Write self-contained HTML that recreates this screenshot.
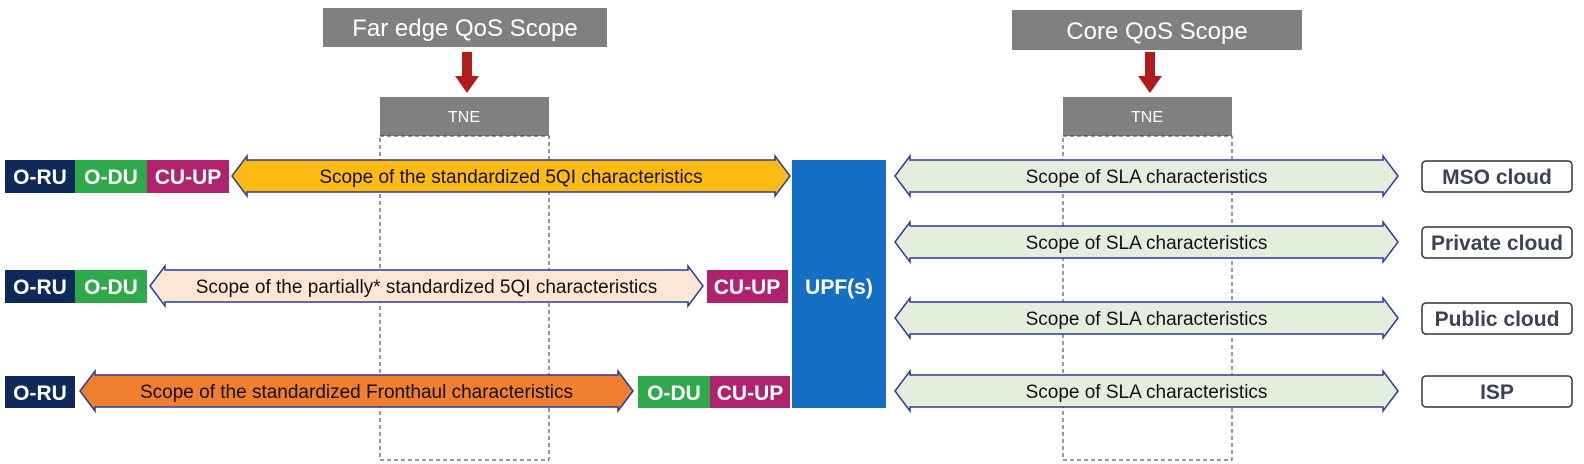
<!DOCTYPE html>
<html><head><meta charset="utf-8">
<style>
body{margin:0;background:#fff;}
svg{display:block;font-family:"Liberation Sans Narrow","Liberation Sans",sans-serif;}
.t{font-size:19px;fill:#111;}
.b{font-weight:bold;font-size:21px;fill:#fff;}
.c{font-weight:bold;font-size:21px;fill:#3a4256;}
</style></head><body>
<svg width="1584" height="464" viewBox="0 0 1584 464">
<g>
<rect x="323" y="8" width="284" height="39" fill="#808080"/>
<text x="465" y="36" text-anchor="middle" font-size="24" fill="#fff">Far edge QoS Scope</text>
<rect x="462" y="52" width="10" height="26" fill="#b01c1c"/><polygon points="455,76 479,76 467,93" fill="#b01c1c"/>
<rect x="380" y="97" width="169" height="39" fill="#808080"/>
<text x="464" y="122" text-anchor="middle" font-size="16" fill="#fff">TNE</text>
<rect x="380" y="136" width="169" height="324" fill="none" stroke="#333" stroke-dasharray="4,3"/>
</g>
<g>
<rect x="1012" y="10" width="290" height="40" fill="#808080"/>
<text x="1157" y="39" text-anchor="middle" font-size="24" fill="#fff">Core QoS Scope</text>
<rect x="1145" y="52" width="10" height="26" fill="#b01c1c"/><polygon points="1138,76 1162,76 1150,93" fill="#b01c1c"/>
<rect x="1063" y="97" width="169" height="39" fill="#808080"/>
<text x="1147" y="122" text-anchor="middle" font-size="16" fill="#fff">TNE</text>
<rect x="1063" y="136" width="169" height="324" fill="none" stroke="#333" stroke-dasharray="4,3"/>
</g>
<g id="arrows"></g>
<rect x="792" y="160" width="94" height="248" fill="#1570c4"/>
<text x="839" y="294" text-anchor="middle" class="b" font-size="24">UPF(s)</text>
<g>
<rect x="5" y="160" width="70" height="33" fill="#0e2a5a"/><text x="40" y="184" text-anchor="middle" class="b">O-RU</text>
<rect x="75" y="160" width="72" height="33" fill="#2eaa4a"/><text x="111" y="184" text-anchor="middle" class="b">O-DU</text>
<rect x="147" y="160" width="82" height="33" fill="#b0226e"/><text x="188" y="184" text-anchor="middle" class="b">CU-UP</text>
</g>
<g>
<rect x="5" y="270" width="70" height="33" fill="#0e2a5a"/><text x="40" y="294" text-anchor="middle" class="b">O-RU</text>
<rect x="75" y="270" width="72" height="33" fill="#2eaa4a"/><text x="111" y="294" text-anchor="middle" class="b">O-DU</text>
<rect x="707" y="270" width="81" height="33" fill="#b0226e"/><text x="747" y="294" text-anchor="middle" class="b">CU-UP</text>
</g>
<g>
<rect x="5" y="376" width="70" height="32" fill="#0e2a5a"/><text x="40" y="400" text-anchor="middle" class="b">O-RU</text>
<rect x="638" y="376" width="72" height="32" fill="#2eaa4a"/><text x="674" y="400" text-anchor="middle" class="b">O-DU</text>
<rect x="710" y="376" width="80" height="32" fill="#b0226e"/><text x="750" y="400" text-anchor="middle" class="b">CU-UP</text>
</g>
<g>
<rect x="1422" y="161" width="150" height="31" rx="4" fill="#fff" stroke="#333" stroke-width="1.5"/><text x="1497" y="184" text-anchor="middle" class="c">MSO cloud</text>
<rect x="1422" y="227" width="150" height="31" rx="4" fill="#fff" stroke="#333" stroke-width="1.5"/><text x="1497" y="250" text-anchor="middle" class="c">Private cloud</text>
<rect x="1422" y="303" width="150" height="31" rx="4" fill="#fff" stroke="#333" stroke-width="1.5"/><text x="1497" y="326" text-anchor="middle" class="c">Public cloud</text>
<rect x="1422" y="376" width="150" height="31" rx="4" fill="#fff" stroke="#333" stroke-width="1.5"/><text x="1497" y="399" text-anchor="middle" class="c">ISP</text>
</g>
</svg>
<script>
const arrowLabels=["Scope of the standardized 5QI characteristics","Scope of the partially* standardized 5QI characteristics","Scope of the standardized Fronthaul characteristics","Scope of SLA characteristics","Scope of SLA characteristics","Scope of SLA characteristics","Scope of SLA characteristics"];
const arrowX1=[232,150,80,895,895,895,895];
const arrowX2=[790,703,633,1398,1398,1398,1398];
const arrowY=[176,286,391,176,242,318,391];
const arrowFill=["#fdbb14","#fde6d4","#f07f30","#e3efdc","#e3efdc","#e3efdc","#e3efdc"];
const g=document.getElementById('arrows');
const NS="http://www.w3.org/2000/svg";
for(let i=0;i<arrowLabels.length;i++){
  const a=arrowX1[i],b=arrowX2[i],y=arrowY[i],h=16,H=20,hw=15;
  const p=document.createElementNS(NS,'polygon');
  p.setAttribute('points',[[a,y],[a+hw,y-H],[a+hw,y-h],[b-hw,y-h],[b-hw,y-H],[b,y],[b-hw,y+H],[b-hw,y+h],[a+hw,y+h],[a+hw,y+H]].map(q=>q.join(',')).join(' '));
  p.setAttribute('fill',arrowFill[i]);p.setAttribute('stroke','#2a3a9a');p.setAttribute('stroke-width','1.5');
  
  
  g.appendChild(p);
  const t=document.createElementNS(NS,'text');
  t.setAttribute('x',(a+b)/2);t.setAttribute('y',y+7);t.setAttribute('text-anchor','middle');t.setAttribute('class','t');
  t.textContent=arrowLabels[i];
  
  
  g.appendChild(t);
}
</script>
</body></html>
